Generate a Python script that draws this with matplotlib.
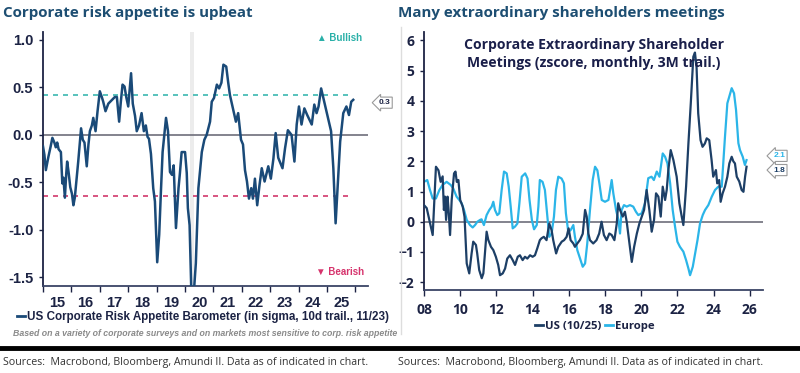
import numpy as np
import matplotlib
matplotlib.use("Agg")
import matplotlib.pyplot as plt
from matplotlib.lines import Line2D

# US Corporate Risk Appetite Barometer (sigma, 10d trailing)
risk_t = [2015.00, 2015.05, 2015.10, 2015.19, 2015.27, 2015.33, 2015.40, 2015.45, 2015.50, 2015.55,
          2015.63, 2015.68, 2015.72, 2015.77, 2015.82, 2015.85, 2015.90, 2015.96, 2016.02, 2016.07,
          2016.12, 2016.24, 2016.34, 2016.40, 2016.46, 2016.54, 2016.60, 2016.65, 2016.72, 2016.77,
          2016.85, 2016.92, 2017.00, 2017.07, 2017.12, 2017.20, 2017.30, 2017.40, 2017.53, 2017.60,
          2017.68, 2017.74, 2017.80, 2017.87, 2017.93, 2018.00, 2018.10, 2018.16, 2018.24, 2018.30,
          2018.38, 2018.47, 2018.55, 2018.62, 2018.68, 2018.73, 2018.80, 2018.88, 2018.94, 2019.02,
          2019.09, 2019.15, 2019.21, 2019.33, 2019.40, 2019.47, 2019.54, 2019.60, 2019.68, 2019.77,
          2019.82, 2019.88, 2020.00, 2020.06, 2020.10, 2020.16, 2020.23, 2020.30, 2020.38, 2020.47,
          2020.59, 2020.68, 2020.76, 2020.88, 2020.94, 2021.02, 2021.12, 2021.20, 2021.28, 2021.35,
          2021.45, 2021.52, 2021.58, 2021.67, 2021.79, 2021.87, 2021.97, 2022.04, 2022.11, 2022.18,
          2022.25, 2022.33, 2022.39, 2022.46, 2022.54, 2022.62, 2022.70, 2022.80, 2022.93, 2023.02,
          2023.11, 2023.19, 2023.28, 2023.43, 2023.52, 2023.62, 2023.75, 2023.85, 2023.93, 2024.01,
          2024.10, 2024.20, 2024.30, 2024.46, 2024.55, 2024.63, 2024.70, 2024.79, 2024.86, 2024.94,
          2025.05, 2025.14, 2025.22, 2025.30, 2025.38, 2025.46, 2025.57, 2025.68, 2025.77, 2025.85,
          2025.92]
risk_v = [-0.12, -0.21, -0.37, -0.23, -0.12, -0.03, -0.08, -0.13, -0.08, -0.15,
          -0.18, -0.51, -0.45, -0.66, -0.40, -0.28, -0.39, -0.55, -0.62, -0.74,
          -0.66, -0.28, 0.07, -0.05, -0.08, -0.33, -0.10, 0.04, 0.10, 0.18,
          0.04, 0.25, 0.46, 0.40, 0.35, 0.25, 0.33, 0.36, 0.40, 0.40,
          0.14, 0.35, 0.53, 0.51, 0.40, 0.30, 0.65, 0.33, 0.20, 0.04,
          0.10, 0.23, 0.04, 0.10, -0.02, -0.04, -0.20, -0.56, -0.70, -1.34,
          -1.05, -0.60, -0.18, 0.18, 0.04, -0.39, -0.42, -0.32, -0.98, -0.56,
          -0.40, -0.18, -0.18, -0.40, -0.77, -0.95, -1.75, -1.70, -1.35, -0.56,
          -0.18, -0.05, 0.00, 0.14, 0.35, 0.39, 0.53, 0.49, 0.55, 0.74,
          0.72, 0.55, 0.42, 0.30, 0.14, 0.23, -0.05, -0.10, -0.37, -0.49,
          -0.67, -0.56, -0.67, -0.46, -0.74, -0.53, -0.35, -0.49, -0.33, -0.46,
          -0.25, 0.02, -0.24, -0.35, -0.14, 0.05, 0.00, -0.28, 0.11, 0.30,
          0.11, 0.28, 0.21, 0.11, 0.32, 0.23, 0.30, 0.49, 0.40, 0.30,
          0.16, 0.04, -0.35, -0.93, -0.49, -0.07, 0.23, 0.30, 0.21, 0.35,
          0.37]
bullish = 0.42
bearish = -0.64
recession = (2020.17, 2020.33)
risk_years = list(range(2015, 2026))

# Extraordinary shareholder meetings (zscore, monthly, 3M trailing)
us_t = [2008.00, 2008.15, 2008.30, 2008.48, 2008.66, 2008.80, 2008.92, 2009.03, 2009.10, 2009.16,
        2009.22, 2009.30, 2009.36, 2009.44, 2009.53, 2009.66, 2009.74, 2009.81, 2009.90, 2010.00,
        2010.14, 2010.24, 2010.36, 2010.50, 2010.63, 2010.72, 2010.87, 2010.94, 2011.05, 2011.19,
        2011.28, 2011.46, 2011.55, 2011.70, 2011.83, 2011.97, 2012.10, 2012.20, 2012.35, 2012.48,
        2012.60, 2012.75, 2012.90, 2013.03, 2013.18, 2013.30, 2013.45, 2013.58, 2013.71, 2013.86,
        2014.00, 2014.13, 2014.26, 2014.40, 2014.49, 2014.62, 2014.77, 2014.92, 2015.05, 2015.14,
        2015.30, 2015.42, 2015.61, 2015.74, 2015.88, 2015.99, 2016.10, 2016.25, 2016.34, 2016.47,
        2016.62, 2016.77, 2016.90, 2016.99, 2017.08, 2017.17, 2017.35, 2017.53, 2017.68, 2017.81,
        2017.94, 2018.09, 2018.24, 2018.37, 2018.52, 2018.65, 2018.73, 2018.83, 2018.98, 2019.10,
        2019.20, 2019.35, 2019.48, 2019.61, 2019.76, 2019.90, 2020.03, 2020.16, 2020.30, 2020.45,
        2020.58, 2020.71, 2020.82, 2020.95, 2021.08, 2021.19, 2021.32, 2021.41, 2021.50, 2021.63,
        2021.78, 2021.96, 2022.11, 2022.24, 2022.33, 2022.48, 2022.61, 2022.74, 2022.88, 2022.97,
        2023.06, 2023.15, 2023.28, 2023.39, 2023.52, 2023.62, 2023.76, 2023.89, 2023.98, 2024.13,
        2024.20, 2024.31, 2024.39, 2024.50, 2024.63, 2024.76, 2024.87, 2025.00, 2025.09, 2025.18,
        2025.28, 2025.42, 2025.55, 2025.65, 2025.74, 2025.82]
us_v = [0.55, 0.45, 0.05, -0.44, 1.82, 1.70, 1.32, 1.50, 0.39, 0.83,
        0.06, 0.83, 0.39, -0.44, 0.72, 1.60, 1.66, 1.32, 1.38, 0.72,
        0.50, 0.16, -1.38, -1.71, -1.05, -0.66, -0.77, -1.05, -1.60, -1.87,
        -1.71, -0.33, -0.60, -0.83, -0.94, -1.16, -1.43, -1.77, -1.71, -1.55,
        -1.22, -1.11, -1.27, -1.43, -1.16, -1.11, -1.27, -1.16, -1.22, -1.11,
        -1.16, -1.11, -0.88, -0.61, -0.55, -0.50, -0.61, -0.06, -0.28, -0.61,
        -1.05, -0.83, -0.66, -0.61, -0.50, -0.22, -0.61, -0.72, -0.83, -0.72,
        -0.60, -0.40, 0.39, 0.17, -0.39, -0.61, -0.72, -0.61, -0.39, 0.00,
        -0.44, -0.61, -0.39, -0.44, -0.61, -0.06, 0.61, 0.39, 0.17, 0.33,
        0.00, -0.72, -1.33, -0.83, -0.39, -0.06, 0.17, 0.39, 1.05, 0.39,
        -0.33, 0.06, 0.94, 0.83, 0.17, 1.16, 0.72, 1.05, 1.71, 2.37,
        2.04, 1.49, 0.61, 0.17, -0.11, 1.16, 2.60, 3.92, 5.46, 5.60,
        5.10, 3.59, 2.70, 2.48, 2.59, 2.76, 2.70, 2.04, 1.49, 1.71,
        1.27, 1.38, 0.66, 0.94, 1.16, 1.49, 1.93, 2.15, 2.00, 1.93,
        1.49, 1.33, 1.05, 0.99, 1.49, 1.82]
eu_t = [2008.00, 2008.18, 2008.33, 2008.48, 2008.66, 2008.85, 2009.03, 2009.25, 2009.47, 2009.61,
        2009.80, 2009.95, 2010.08, 2010.21, 2010.36, 2010.54, 2010.69, 2010.82, 2010.95, 2011.10,
        2011.18, 2011.31, 2011.46, 2011.61, 2011.74, 2011.83, 2011.92, 2012.05, 2012.16, 2012.29,
        2012.42, 2012.57, 2012.68, 2012.79, 2012.90, 2013.03, 2013.16, 2013.27, 2013.40, 2013.59,
        2013.72, 2013.83, 2013.96, 2014.08, 2014.23, 2014.32, 2014.40, 2014.55, 2014.68, 2014.83,
        2014.92, 2015.05, 2015.18, 2015.29, 2015.42, 2015.60, 2015.73, 2015.84, 2015.97, 2016.10,
        2016.25, 2016.34, 2016.47, 2016.62, 2016.77, 2016.90, 2017.02, 2017.17, 2017.32, 2017.45,
        2017.58, 2017.69, 2017.82, 2018.00, 2018.19, 2018.28, 2018.37, 2018.46, 2018.61, 2018.74,
        2018.83, 2018.92, 2019.05, 2019.20, 2019.38, 2019.56, 2019.71, 2019.84, 2020.03, 2020.21,
        2020.39, 2020.57, 2020.70, 2020.86, 2021.01, 2021.19, 2021.32, 2021.45, 2021.60, 2021.74,
        2021.87, 2022.00, 2022.14, 2022.33, 2022.48, 2022.61, 2022.70, 2022.85, 2022.98, 2023.11,
        2023.25, 2023.40, 2023.53, 2023.71, 2023.90, 2024.08, 2024.26, 2024.45, 2024.63, 2024.76,
        2025.00, 2025.13, 2025.24, 2025.37, 2025.46, 2025.61, 2025.73, 2025.82]
eu_v = [1.32, 1.38, 1.05, 0.77, 0.77, 1.05, 1.22, 1.32, 1.22, 1.11,
        0.83, 0.72, 0.61, 0.39, 0.06, -0.11, -0.19, -0.11, 0.00, 0.06,
        0.08, -0.11, 0.22, 0.39, 0.50, 0.66, 0.39, 0.22, 0.28, 1.05,
        1.66, 1.60, 1.16, 0.50, -0.22, -0.16, -0.06, 0.61, 1.49, 1.60,
        1.43, 0.72, 0.06, -0.25, -0.11, 0.50, 1.38, 1.32, 1.05, 0.06,
        -0.50, -0.39, 0.17, 1.05, 1.49, 1.43, 1.27, 0.28, -0.33, -0.28,
        -0.11, -0.50, -0.94, -1.22, -1.49, -1.38, -0.72, 0.39, 1.38, 1.82,
        1.70, 1.27, 0.72, 0.66, 0.72, 1.05, 1.38, 0.94, 0.39, 0.06,
        -0.39, 0.39, 0.55, 0.50, 0.55, 0.50, 0.33, 0.22, 0.28, 0.61,
        1.44, 1.49, 1.38, 1.66, 1.49, 2.26, 2.15, 1.93, 1.27, 0.39,
        -0.16, -0.66, -0.83, -0.99, -1.27, -1.55, -1.77, -1.49, -1.05, -0.61,
        -0.06, 0.22, 0.39, 0.55, 0.83, 1.05, 1.16, 1.16, 2.82, 3.92,
        4.42, 4.25, 3.70, 2.60, 2.37, 2.15, 1.88, 2.04]
meet_years = list(range(2008, 2027, 2))

navy = '#1c2344'
title_col = '#1d4e72'
risk_col = '#1a4a78'
us_col = '#1d3f66'
eu_col = '#2bb5e8'

fig = plt.figure(figsize=(8, 3.73), dpi=100)

# ---- left panel
ax1 = fig.add_axes([43/800, 1-286/373, 325/800, 254/373])
ax1.axvspan(recession[0], recession[1], color='#ececec', lw=0, zorder=0)
ax1.axhline(0, color='#6e6e7a', lw=1.2, zorder=1)
ax1.plot([2015.0, 2025.9], [bullish, bullish], ls=(0, (3, 3)), color='#3bb8b0', lw=1.2)
ax1.plot([2015.0, 2025.9], [bearish, bearish], ls=(0, (3, 3)), color='#d2386c', lw=1.2)
ax1.plot(risk_t, risk_v, color=risk_col, lw=1.8, zorder=3)
ax1.set_xlim(2015.0, 2026.44)
ax1.set_ylim(-1.59, 1.084)
ax1.set_yticks([1.0, 0.5, 0.0, -0.5, -1.0, -1.5])
ax1.set_yticklabels(['1.0', '0.5', '0.0', '-0.5', '-1.0', '-1.5'])
ax1.set_xticks(risk_years + [2026])
ax1.set_xticklabels([])
ax1.set_xticks([y + 0.5 for y in risk_years], minor=True)
ax1.set_xticklabels([str(y)[2:] for y in risk_years], minor=True)
ax1.tick_params(axis='x', which='major', length=4, width=1, color=navy)
ax1.tick_params(axis='x', which='minor', length=0, pad=7)
ax1.tick_params(axis='y', length=3, width=1, color=navy, pad=4)
for lab in ax1.get_yticklabels() + ax1.get_xticklabels(minor=True):
    lab.set_fontfamily('Liberation Sans')
    lab.set_fontweight('bold')
    lab.set_fontsize(10.5)
    lab.set_color(navy)
for s in ['top', 'right']:
    ax1.spines[s].set_visible(False)
ax1.spines['left'].set_color(navy)
ax1.spines['bottom'].set_color('#3a4466')
ax1.spines['left'].set_linewidth(1.3)
ax1.spines['bottom'].set_linewidth(1.3)
ax1.text(0.982, 0.975, '\u25b2 Bullish', transform=ax1.transAxes, ha='right', va='center',
         color='#2ab0a8', fontsize=7, fontweight='bold', family=['Liberation Sans', 'DejaVu Sans'])
ax1.text(0.988, 0.055, '\u25bc Bearish', transform=ax1.transAxes, ha='right', va='center',
         color='#d6336c', fontsize=7, fontweight='bold', family=['Liberation Sans', 'DejaVu Sans'])
ax1.annotate('0.3', xy=(1.032, 0.34), xycoords=('axes fraction', 'data'), ha='left', va='center',
             fontsize=6, fontweight='bold', color=navy, family='Liberation Sans',
             bbox=dict(boxstyle='larrow,pad=0.25', fc='white', ec='#9a9a9a', lw=0.8))
leg1 = fig.legend(handles=[Line2D([], [], color=risk_col, lw=2)],
                  labels=['US Corporate Risk Appetite Barometer (in sigma, 10d trail., 11/23)'],
                  loc='center', bbox_to_anchor=(203/800, 1-317/373), frameon=False,
                  handlelength=0.7, handletextpad=0.2, borderpad=0,
                  prop={'family': 'Liberation Sans', 'weight': 'bold', 'size': 8.4})
for t in leg1.get_texts():
    t.set_color(navy)
fig.text(13/800, 1-333/373,
         'Based on a variety of corporate surveys and on markets most sensitive to corp. risk appetite',
         fontsize=6.3, style='italic', fontweight='bold', color='#8a8a8a', family='Liberation Sans',
         va='center')

# ---- right panel
ax2 = fig.add_axes([424/800, 1-290/373, 339/800, 258/373])
ax2.axhline(0, color='#6e6e7a', lw=1.2, zorder=1)
ax2.plot(eu_t, eu_v, color=eu_col, lw=1.6, zorder=2)
ax2.plot(us_t, us_v, color=us_col, lw=1.6, zorder=3)
ax2.set_xlim(2008, 2026.73)
ax2.set_ylim(-2.26, 6.28)
ax2.set_yticks(range(-2, 7))
ax2.set_xticks(meet_years)
ax2.set_xticklabels(['%02d' % (y % 100) for y in meet_years])
ax2.tick_params(axis='x', length=4, width=1, color=navy, pad=5)
ax2.tick_params(axis='y', length=3, width=1, color=navy, pad=4)
for lab in ax2.get_yticklabels() + ax2.get_xticklabels():
    lab.set_fontfamily('Open Sans')
    lab.set_fontweight('bold')
    lab.set_fontsize(10)
    lab.set_color(navy)
for s in ['top', 'right']:
    ax2.spines[s].set_visible(False)
ax2.spines['left'].set_color(navy)
ax2.spines['bottom'].set_color('#3a4466')
ax2.spines['left'].set_linewidth(1.3)
ax2.spines['bottom'].set_linewidth(1.3)
ax2.text(0.5, 0.915, 'Corporate Extraordinary Shareholder\nMeetings (zscore, monthly, 3M trail.)',
         transform=ax2.transAxes, ha='center', va='center', fontsize=10.1, fontweight='bold',
         color='#1a1f4a', family='Open Sans', linespacing=1.3)
ax2.annotate('2.1', xy=(1.03, 2.18), xycoords=('axes fraction', 'data'), ha='left', va='center',
             fontsize=6, fontweight='bold', color=eu_col, family='Liberation Sans',
             bbox=dict(boxstyle='larrow,pad=0.25', fc='white', ec='#9a9a9a', lw=0.8))
ax2.annotate('1.8', xy=(1.03, 1.71), xycoords=('axes fraction', 'data'), ha='left', va='center',
             fontsize=6, fontweight='bold', color=us_col, family='Liberation Sans',
             bbox=dict(boxstyle='larrow,pad=0.25', fc='white', ec='#9a9a9a', lw=0.8))
leg2 = fig.legend(handles=[Line2D([], [], color=us_col, lw=2), Line2D([], [], color=eu_col, lw=2)],
                  labels=['US (10/25)', 'Europe'], ncol=2,
                  loc='center', bbox_to_anchor=(595/800, 1-326/373), frameon=False,
                  handlelength=0.7, handletextpad=0.2, columnspacing=0.3, borderpad=0,
                  prop={'family': 'Open Sans', 'weight': 'bold', 'size': 8.2})
for t in leg2.get_texts():
    t.set_color(navy)

# ---- titles, separators, sources
fig.text(3/800, 1-13/373, 'Corporate risk appetite is upbeat', fontsize=10.9, fontweight='bold',
         color=title_col, family='Open Sans', va='center')
fig.text(398/800, 1-13/373, 'Many extraordinary shareholders meetings', fontsize=10.9,
         fontweight='bold', color=title_col, family='Open Sans', va='center')
fig.add_artist(Line2D([401/800, 401/800], [1-27/373, 1-334/373], color='#dddddd', lw=1))
fig.add_artist(Line2D([0, 1], [1-348/373, 1-348/373], color='black', lw=3.5))
src = 'Sources:  Macrobond, Bloomberg, Amundi II. Data as of indicated in chart.'
fig.text(3/800, 1-362/373, src, fontsize=7.7, color='#333333', family='Open Sans', va='center')
fig.text(398/800, 1-362/373, src, fontsize=7.7, color='#333333', family='Open Sans', va='center')

fig.savefig('out.png', dpi=100)
